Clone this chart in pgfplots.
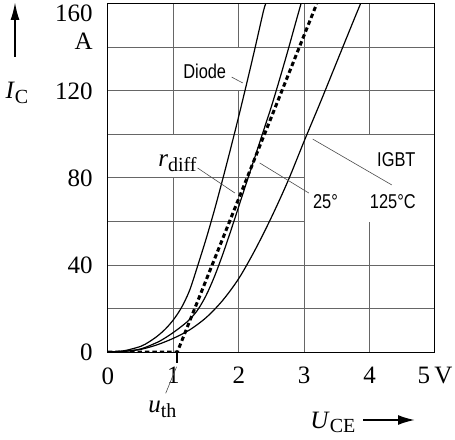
\documentclass[border=0pt]{standalone}
\usepackage{fontspec}
\setmainfont{Liberation Serif}
\newfontfamily\nsans[FakeStretch=0.82]{Liberation Sans}
\usepackage{pgfplots}
\pgfplotsset{compat=1.18}
\usetikzlibrary{arrows.meta}
\newcommand\numfont{\fontsize{12.5}{14}\selectfont}
\newcommand\labfont{\nsans\fontsize{10}{12}\selectfont}
\newcommand\sub[1]{\raisebox{-0.4ex}{\fontsize{10}{12}\selectfont #1}}
\begin{document}
\begin{tikzpicture}
  \useasboundingbox (-54pt,-43.5pt) rectangle (173.5pt,176pt);
  \begin{axis}[
      at={(0,0)}, anchor=south west,
      scale only axis,
      width=163.5pt, height=174pt,
      xmin=0, xmax=5, ymin=0, ymax=160,
      xtick={0,1,2,3,4,5},
      xticklabels={0,1,2,3,4,{5\,V}},
      ytick={0,20,...,160},
      yticklabels={0,,40,,80,,120,,},
      grid=major,
      major grid style={black!60, line width=0.5pt},
      major tick length=0pt,
      tick style={draw=none},
      axis line style={line width=0.5pt},
      ticklabel style={font=\numfont, inner sep=0pt},
      xticklabel style={anchor=north, yshift=-7.5pt},
      yticklabel style={anchor=east, xshift=-7.5pt},
    ]
    % white patches where the grid is left out behind the labels
    \fill[white] (axis cs:1.9,120.4) rectangle (axis cs:2.1,139.6);
    \fill[white] (axis cs:0.9,80.4) rectangle (axis cs:1.1,99.6);
    \fill[white] (axis cs:3.015,59.7) rectangle (axis cs:4.985,99.6);

    % Diode
    \addplot[black, line width=0.6pt, smooth] coordinates {
      (0,0) (0.25,0.6) (0.5,2.6) (0.625,4.6) (0.75,7.2) (0.875,10.5)
      (1.0,14.8) (1.125,20.5) (1.25,28.5) (1.375,40) (1.5,52) (1.625,65)
      (1.75,79) (1.875,93.5) (2.0,108.5) (2.125,124) (2.25,140)
      (2.375,156.5) (2.41,160)
    };
    % IGBT 25 C
    \addplot[black, line width=0.6pt, smooth] coordinates {
      (0,0) (0.25,0.35) (0.5,1.4) (0.75,4.4) (0.875,6.5) (1.0,9)
      (1.125,11.8) (1.25,15) (1.375,19.5) (1.5,26) (1.625,34.5)
      (1.75,44.5) (1.875,55.5) (2.0,67) (2.125,78.5) (2.25,90)
      (2.375,101.5) (2.5,113) (2.625,125.5) (2.75,138.5) (2.875,152)
      (2.95,160)
    };
    % IGBT 125 C
    \addplot[black, line width=0.6pt, smooth] coordinates {
      (0,0) (0.25,0.3) (0.5,1.2) (0.75,3.3) (1.0,6.3) (1.25,10.2)
      (1.5,15.8) (1.75,23.6) (2.0,33.8) (2.25,47) (2.5,62) (2.75,78.5)
      (3.0,97) (3.25,115) (3.5,133.5) (3.75,152) (3.86,160)
    };
    % r_diff line
    \addplot[black, line width=1.5pt, dash pattern=on 2.2pt off 1.5pt] coordinates {
      (0,0) (1.06,0) (3.19,160)
    };

    % leader lines
    \draw[black!70, line width=0.3pt] (axis cs:1.89,126.4) -- (axis cs:2.06,123.7);
    \draw[black!70, line width=0.3pt] (axis cs:1.37,84.6) -- (axis cs:1.94,73.1);
    \draw[black!70, line width=0.3pt] (axis cs:2.32,86.9) -- (axis cs:3.07,73.1);
    \draw[black!70, line width=0.3pt] (axis cs:3.13,97.9) -- (axis cs:4.34,76.8);

    % labels
    \node[anchor=base west, inner sep=0pt, font=\labfont] at (axis cs:1.145,125.8) {Diode};
    \node[anchor=base west, inner sep=0pt, font=\numfont] at (axis cs:0.763,85.1) {\textit{r}\sub{diff}};
    \node[anchor=base west, inner sep=0pt, font=\labfont] at (axis cs:3.13,66.2) {25°};
    \node[anchor=base west, inner sep=0pt, font=\labfont] at (axis cs:4.11,85.2) {IGBT};
    \node[anchor=base west, inner sep=0pt, font=\labfont] at (axis cs:4.0,66.2) {125°C};
  \end{axis}

  % top tick label with unit A under it
  \node[anchor=east, inner sep=0pt, font=\numfont] at (-7.5pt,169.25pt) {160};
  \node[anchor=east, inner sep=0pt, font=\numfont] at (-7.5pt,155.25pt) {A};
  % y quantity with arrow
  \draw[line width=1pt, -{Latex[length=9pt, width=4.5pt]}] (-46.5pt,147.5pt) -- (-46.5pt,175pt);
  \node[font=\numfont, inner sep=0pt] at (-45.5pt,129.5pt) {\textit{I}\sub{C}};
  % x quantity with arrow
  \node[anchor=base west, inner sep=0pt, font=\numfont] at (101pt,-38pt) {\textit{U}\sub{CE}};
  \draw[line width=1pt, -{Latex[length=8.5pt, width=5pt]}] (127.5pt,-34pt) -- (153.5pt,-34pt);
  % threshold voltage mark
  \draw[line width=1pt] (34.7pt,0pt) -- (34.7pt,-5.5pt);
  \draw[black!70, line width=0.3pt] (34.3pt,-7.35pt) -- (28.85pt,-20.65pt);
  \node[anchor=base west, inner sep=0pt, font=\numfont] at (20pt,-30.5pt) {\textit{u}\sub{th}};
\end{tikzpicture}
\end{document}
